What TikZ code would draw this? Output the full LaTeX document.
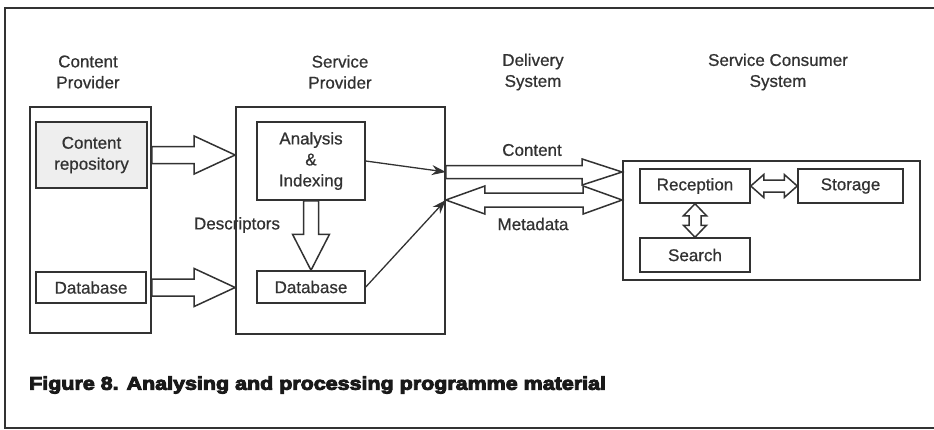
\documentclass[tikz,border=0pt]{standalone}
\usepackage{fontspec}
\setmainfont{Liberation Sans}[UprightFeatures={FakeBold=0.7}]
\newfontfamily\capfont{Liberation Sans}[FakeStretch=1.16,BoldFeatures={FakeBold=5}]
\usetikzlibrary{arrows.meta,calc}
\definecolor{inkgray}{RGB}{50,50,50}
\definecolor{repofill}{RGB}{238,238,238}
\newcommand{\lblfont}{\fontsize{17}{21}\selectfont}
% hollow arrow: start, end, shaft half width, head half width, head length
\newcommand{\fatarrow}[5]{%
  \path (#1) coordinate (fa-a) (#2) coordinate (fa-b);
  \path ($(fa-b)!#5!(fa-a)$) coordinate (fa-c);
  \draw[hollow] ($(fa-a)!#3!90:(fa-b)$) -- ($(fa-c)!#3!-90:(fa-a)$)
    -- ($(fa-c)!#4!-90:(fa-a)$) -- (fa-b) -- ($(fa-c)!#4!90:(fa-a)$)
    -- ($(fa-c)!#3!90:(fa-a)$) -- ($(fa-a)!#3!-90:(fa-b)$) -- cycle;
}
% hollow double arrow: same arguments
\newcommand{\fatdouble}[5]{%
  \path (#1) coordinate (fa-a) (#2) coordinate (fa-b);
  \path ($(fa-a)!#5!(fa-b)$) coordinate (fa-c) ($(fa-b)!#5!(fa-a)$) coordinate (fa-d);
  \draw[hollow] (fa-a) -- ($(fa-c)!#4!90:(fa-b)$) -- ($(fa-c)!#3!90:(fa-b)$)
    -- ($(fa-d)!#3!-90:(fa-a)$) -- ($(fa-d)!#4!-90:(fa-a)$) -- (fa-b)
    -- ($(fa-d)!#4!90:(fa-a)$) -- ($(fa-d)!#3!90:(fa-a)$)
    -- ($(fa-c)!#3!-90:(fa-b)$) -- ($(fa-c)!#4!-90:(fa-b)$) -- cycle;
}

\begin{document}
\begin{tikzpicture}[x=1pt,y=-1pt,
    box/.style={draw=inkgray,line width=1.5pt,inner sep=0pt,align=center,text=inkgray,font=\lblfont},
    group/.style={box,line width=1.7pt},
    hdr/.style={align=center,inner sep=0pt,text=inkgray,font=\lblfont},
    hollow/.style={draw=inkgray,line width=1.5pt,fill=white,line join=miter},
    thinarr/.style={draw=inkgray,line width=1.3pt,-{Stealth[length=14pt,width=10pt]}},
  ]
  \useasboundingbox (0,0) rectangle (934,429);

  % frame
  \draw[inkgray,line width=2.5pt] (934,8) -- (5,8) -- (5,428) -- (934,428);

  % column headings
  \node[hdr] (hcp)  at (88,72)  {Content\\Provider};
  \node[hdr] (hsp)  at (340,72) {Service\\Provider};
  \node[hdr] (hds)  at (533,72) {Delivery\\System};
  \node[hdr] (hscs) at (778,72) {Service Consumer\\System};

  % content provider
  \node[group,minimum width=121,minimum height=226] (cp) at (90.5,220) {};
  \node[box,line width=2.2pt,fill=repofill,minimum width=111,minimum height=66] (repo) at (91.5,155) {Content\\repository};
  \node[box,minimum width=110,minimum height=31] (cpdb) at (91,287.5) {Database};

  % service provider
  \node[group,minimum width=209,minimum height=227] (sp) at (340.5,220.5) {};
  \node[box,minimum width=108,minimum height=78] (ana) at (311,161) {Analysis\\\&\\Indexing};
  \node[box,minimum width=108,minimum height=32] (spdb) at (311,287) {Database};

  % service consumer system
  \node[group,minimum width=297,minimum height=119] (scs) at (771.5,220.5) {};
  \node[box,minimum width=110,minimum height=34] (rec) at (695,186) {Reception};
  \node[box,minimum width=105,minimum height=34] (sto) at (850.5,186) {Storage};
  \node[box,minimum width=110,minimum height=34] (sea) at (695,255) {Search};

  \coordinate (cin) at (scs.west |- 0,172);
  \coordinate (min) at (scs.west |- 0,200);

  % hollow arrows
  \fatarrow{cp.east |- repo.east}{sp.west |- repo.east}{8.5pt}{19pt}{41pt}
  \fatarrow{cp.east |- cpdb.east}{sp.west |- cpdb.east}{8.5pt}{19pt}{41pt}
  \fatarrow{ana.south}{spdb.north}{7.5pt}{18.5pt}{36pt}
  \fatarrow{sp.east |- cin}{cin}{6.5pt}{13pt}{40pt}
  \fatdouble{sp.east |- min}{min}{7pt}{14pt}{39pt}
  \fatdouble{rec.east}{sto.west}{6pt}{11.5pt}{13pt}
  \fatdouble{rec.south}{sea.north}{6pt}{11.5pt}{12pt}

  % thin arrows
  \draw[thinarr] (ana.east) -- (sp.east |- cin);
  \draw[thinarr] (spdb.east) -- (sp.east |- min);

  % labels
  \node[hdr] (lcon) at (532,150) {Content};
  \node[hdr] (lmet) at (533,224) {Metadata};
  \node[hdr] (ldes) at (237,225) {Descriptors};

  % caption
  \node[anchor=west,inner sep=0pt,text=black!90,font=\capfont\bfseries\fontsize{18.5}{20}\selectfont] (cap) at (29,385)
    {Figure 8. Analysing and processing programme material};
\end{tikzpicture}
\end{document}
